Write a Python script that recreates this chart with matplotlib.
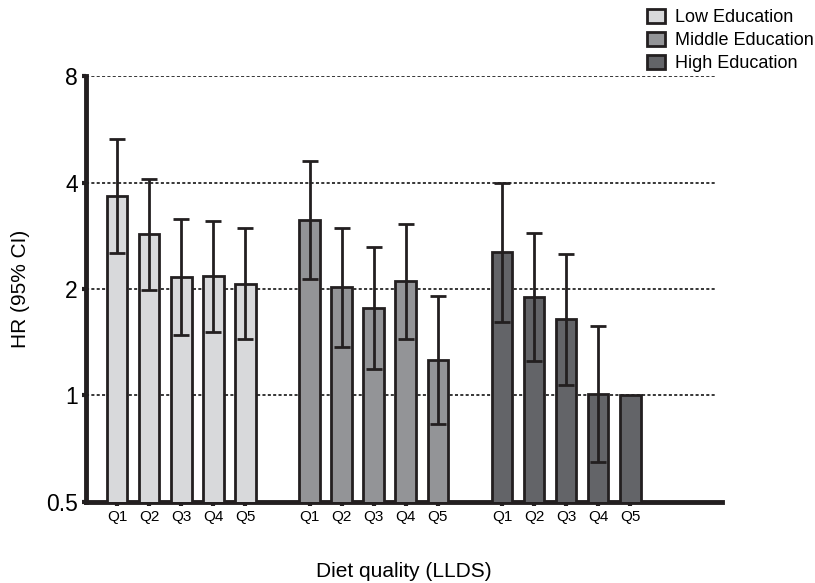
import matplotlib.pyplot as plt
import numpy as np
from matplotlib.patches import Patch

plt.rcParams["font.family"] = ["Liberation Sans", "DejaVu Sans"]

# Hazard ratios, per education level and diet quintile
quintiles = ["Q1", "Q2", "Q3", "Q4", "Q5"]
groups = ["Low Education", "Middle Education", "High Education"]
hr_low = [3.66, 2.86, 2.16, 2.18, 2.07]
ci_low_lo = [2.53, 1.99, 1.48, 1.51, 1.44]
ci_low_hi = [5.31, 4.09, 3.15, 3.12, 2.98]
hr_mid = [3.13, 2.03, 1.77, 2.10, 1.26]
ci_mid_lo = [2.13, 1.37, 1.19, 1.44, 0.83]
ci_mid_hi = [4.61, 2.98, 2.63, 3.05, 1.91]
hr_high = [2.55, 1.90, 1.64, 1.01, 1.00]
ci_high_lo = [1.61, 1.25, 1.07, 0.65, np.nan]
ci_high_hi = [4.00, 2.88, 2.51, 1.57, np.nan]

colors = ["#d8d9db", "#939497", "#636468"]
edge = "#231f20"

fig = plt.figure(figsize=(8.15, 5.83), dpi=100)
ax = fig.add_axes([0.1055, 0.139, 0.78, 0.7306])

series = [
    (hr_low, ci_low_lo, ci_low_hi),
    (hr_mid, ci_mid_lo, ci_mid_hi),
    (hr_high, ci_high_lo, ci_high_hi),
]
xticks = []
xlabels = []
for g, (hr, lo, hi) in enumerate(series):
    # one empty slot between the education groups
    x = np.arange(len(quintiles)) + 6 * g
    hr = np.array(hr)
    lo = np.array(lo)
    hi = np.array(hi)
    ax.bar(x, hr, width=0.64, color=colors[g],
           edgecolor=edge, linewidth=2, zorder=3)
    ok = ~np.isnan(lo)
    ax.errorbar(x[ok], hr[ok], yerr=[hr[ok] - lo[ok], hi[ok] - hr[ok]],
                fmt="none", ecolor=edge, elinewidth=2, capsize=6,
                capthick=2, zorder=4)
    xticks.extend(x)
    xlabels.extend(quintiles)

ax.set_yscale("log", base=2)
ax.set_ylim(0.5, 8)
ax.set_xlim(-0.97, 18.85)
ax.set_yticks([0.5, 1, 2, 4, 8])
ax.set_yticklabels(["0.5", "1", "2", "4", "8"], fontsize=16.5)
ax.minorticks_off()
ax.set_xticks(xticks)
ax.set_xticklabels(xlabels, fontsize=11)

for v in [1, 2, 4, 8]:
    ax.axhline(v, xmin=0, xmax=0.99, color="black", ls=(0, (2, 1.5)),
               lw=1.1, zorder=1)

for side in ["top", "right"]:
    ax.spines[side].set_visible(False)
for side in ["left", "bottom"]:
    ax.spines[side].set_linewidth(3.5)
    ax.spines[side].set_color(edge)
ax.tick_params(axis="both", length=3, width=3, color=edge, pad=3)

ax.set_ylabel("HR (95% CI)", fontsize=15, labelpad=11)
ax.set_xlabel("Diet quality (LLDS)", fontsize=15, labelpad=27)

handles = [Patch(facecolor=c, edgecolor=edge, linewidth=2) for c in colors]
fig.legend(handles, groups, loc="upper right",
           bbox_to_anchor=(814 / 815, 1 - 9 / 583),
           frameon=False, fontsize=13, handlelength=1.0, handleheight=0.85,
           handletextpad=0.55, labelspacing=0.3, borderpad=0,
           borderaxespad=0)

plt.savefig("out.png", dpi=100)
